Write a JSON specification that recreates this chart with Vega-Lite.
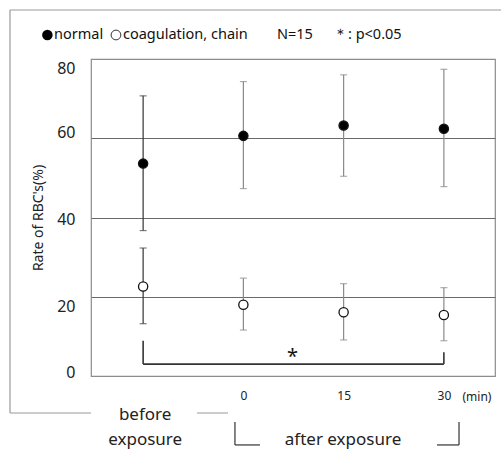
{
  "$schema": "https://vega.github.io/schema/vega-lite/v6.json",
  "autosize": {"type": "none"},
  "width": 404,
  "height": 317,
  "padding": {"left": 91, "top": 59, "right": 6, "bottom": 74},
  "background": "white",
  "config": {
    "view": {"stroke": "#8c8c8c", "strokeWidth": 1.2},
    "font": "Noto Sans",
    "text": {"font": "Noto Sans", "fontWeight": "normal"}
  },
  "datasets": {
    "one": [{"item": "annotation"}]
  },
  "data": {
    "values": [
      {"time": "before", "pos": 0, "group": "normal", "mean": 53.6, "lo": 36.7, "hi": 70.7},
      {"time": "0", "pos": 1, "group": "normal", "mean": 60.6, "lo": 47.3, "hi": 74.3},
      {"time": "15", "pos": 2, "group": "normal", "mean": 63.2, "lo": 50.4, "hi": 76.0},
      {"time": "30", "pos": 3, "group": "normal", "mean": 62.4, "lo": 47.8, "hi": 77.4},
      {"time": "before", "pos": 0, "group": "coagulation, chain", "mean": 22.6, "lo": 13.2, "hi": 32.3},
      {"time": "0", "pos": 1, "group": "coagulation, chain", "mean": 18.0, "lo": 11.6, "hi": 24.7},
      {"time": "15", "pos": 2, "group": "coagulation, chain", "mean": 16.1, "lo": 9.1, "hi": 23.3},
      {"time": "30", "pos": 3, "group": "coagulation, chain", "mean": 15.4, "lo": 8.9, "hi": 22.3}
    ]
  },
  "layer": [
    {
      "mark": {"type": "rule", "strokeWidth": 1.2},
      "encoding": {
        "x": {
          "field": "pos", "type": "quantitative",
          "scale": {"domain": [-0.52, 3.51], "nice": false, "zero": false},
          "axis": {
            "values": [1, 2, 3],
            "labelExpr": "datum.value == 1 ? '0' : datum.value == 2 ? '15' : '30'",
            "ticks": false, "domain": false, "grid": false,
            "labelPadding": 14, "labelFontSize": 12, "labelColor": "#222",
            "labelFont": "Noto Sans", "labelFontWeight": "normal", "title": null
          }
        },
        "y": {
          "field": "lo", "type": "quantitative",
          "scale": {"domain": [0, 80], "nice": false},
          "axis": {
            "values": [0, 20, 40, 60, 80],
            "ticks": false, "domain": false,
            "labelPadding": 16, "labelFontSize": 16, "labelColor": "#222", "labelFont": "Noto Sans", "labelFontWeight": "normal",
            "labelOffset": {
              "condition": [
                {"test": "datum.value == 80", "value": 9},
                {"test": "datum.value == 60", "value": -6},
                {"test": "datum.value == 40", "value": 2},
                {"test": "datum.value == 20", "value": 10}
              ],
              "value": -4
            },
            "grid": true, "gridColor": "#6a6a6a", "gridWidth": 1.2,
            "gridOpacity": {"condition": {"test": "datum.value == 0 || datum.value == 80", "value": 0}, "value": 1},
            "title": "Rate of RBC's(%)",
            "titleFont": "Noto Sans", "titleFontSize": 14, "titleFontWeight": "normal", "titleColor": "#222",
            "titleX": -53, "titleY": 158.5, "titleAngle": 270, "titleAlign": "center", "titleBaseline": "middle"
          }
        },
        "y2": {"field": "hi"},
        "color": {"condition": {"test": "datum.pos == 0", "value": "#333"}, "value": "#8a8a8a"}
      }
    },
    {
      "mark": {"type": "tick", "orient": "horizontal", "size": 7, "thickness": 1.2},
      "encoding": {
        "x": {"field": "pos", "type": "quantitative"},
        "y": {"field": "lo", "type": "quantitative"},
        "color": {"condition": {"test": "datum.pos == 0", "value": "#444"}, "value": "#8a8a8a"}
      }
    },
    {
      "mark": {"type": "tick", "orient": "horizontal", "size": 7, "thickness": 1.2},
      "encoding": {
        "x": {"field": "pos", "type": "quantitative"},
        "y": {"field": "hi", "type": "quantitative"},
        "color": {"condition": {"test": "datum.pos == 0", "value": "#444"}, "value": "#8a8a8a"}
      }
    },
    {
      "mark": {"type": "point", "filled": false, "opacity": 1, "size": 85, "strokeWidth": 1.3, "stroke": "#111"},
      "encoding": {
        "x": {"field": "pos", "type": "quantitative"},
        "y": {"field": "mean", "type": "quantitative"},
        "fill": {
          "field": "group", "type": "nominal",
          "scale": {"domain": ["normal", "coagulation, chain"], "range": ["#000000", "#ffffff"]},
          "legend": null
        }
      }
    },
    {
      "data": {"name": "one"},
      "layer": [
        {
          "mark": {"type": "rule", "color": "#333", "strokeWidth": 1.6, "clip": false},
          "encoding": {"x": {"datum": 0, "type": "quantitative"}, "y": {"datum": 8.9, "type": "quantitative"}, "y2": {"datum": 3.0}}
        },
        {
          "mark": {"type": "rule", "color": "#333", "strokeWidth": 1.6, "clip": false},
          "encoding": {"x": {"datum": 0, "type": "quantitative"}, "x2": {"datum": 3}, "y": {"datum": 3.0, "type": "quantitative"}}
        },
        {
          "mark": {"type": "rule", "color": "#333", "strokeWidth": 1.6, "clip": false},
          "encoding": {"x": {"datum": 3, "type": "quantitative"}, "y": {"datum": 6.0, "type": "quantitative"}, "y2": {"datum": 3.0}}
        },
        {
          "mark": {"type": "text", "text": "*", "fontSize": 20, "baseline": "middle", "align": "center", "dy": 4, "color": "#111"},
          "encoding": {"x": {"datum": 1.49, "type": "quantitative"}, "y": {"datum": 5.8, "type": "quantitative"}}
        },
        {
          "mark": {"type": "point", "shape": "circle", "filled": true, "opacity": 1, "size": 110, "color": "#000", "clip": false},
          "encoding": {"x": {"datum": -0.955, "type": "quantitative"}, "y": {"datum": 86.06, "type": "quantitative"}}
        },
        {
          "mark": {"type": "text", "text": "normal", "fontSize": 14.5, "baseline": "middle", "align": "left", "color": "#111", "clip": false},
          "encoding": {"x": {"datum": -0.889, "type": "quantitative"}, "y": {"datum": 86.06, "type": "quantitative"}}
        },
        {
          "mark": {"type": "point", "shape": "circle", "filled": false, "opacity": 1, "size": 95, "stroke": "#333", "strokeWidth": 1, "fill": "white", "clip": false},
          "encoding": {"x": {"datum": -0.271, "type": "quantitative"}, "y": {"datum": 86.06, "type": "quantitative"}}
        },
        {
          "mark": {"type": "text", "text": "coagulation, chain", "fontSize": 14.5, "baseline": "middle", "align": "left", "color": "#111", "clip": false},
          "encoding": {"x": {"datum": -0.201, "type": "quantitative"}, "y": {"datum": 86.06, "type": "quantitative"}}
        },
        {
          "mark": {"type": "text", "text": "N=15", "fontSize": 14.5, "baseline": "middle", "align": "left", "color": "#111", "clip": false},
          "encoding": {"x": {"datum": 1.335, "type": "quantitative"}, "y": {"datum": 86.06, "type": "quantitative"}}
        },
        {
          "mark": {"type": "text", "text": "＊: p<0.05", "fontSize": 14.5, "baseline": "middle", "align": "left", "color": "#111", "clip": false},
          "encoding": {"x": {"datum": 1.894, "type": "quantitative"}, "y": {"datum": 86.06, "type": "quantitative"}}
        },
        {
          "mark": {"type": "text", "text": "(min)", "fontSize": 12, "baseline": "middle", "align": "center", "color": "#222", "clip": false},
          "encoding": {"x": {"datum": 3.33, "type": "quantitative"}, "y": {"datum": -5.3, "type": "quantitative"}}
        },
        {
          "mark": {"type": "text", "text": "before\nexposure", "lineBreak": "\n", "lineHeight": 25, "fontSize": 17, "baseline": "middle", "align": "center", "color": "#222", "clip": false},
          "encoding": {"x": {"datum": 0.02, "type": "quantitative"}, "y": {"datum": -9.72, "type": "quantitative"}}
        },
        {
          "mark": {"type": "text", "text": "after exposure", "fontSize": 17, "baseline": "middle", "align": "center", "color": "#222", "clip": false},
          "encoding": {"x": {"datum": 1.994, "type": "quantitative"}, "y": {"datum": -16.2, "type": "quantitative"}}
        },
        {
          "mark": {"type": "rule", "color": "#333", "strokeWidth": 1.2, "clip": false},
          "encoding": {"x": {"datum": 0.916, "type": "quantitative"}, "y": {"datum": -11.6, "type": "quantitative"}, "y2": {"datum": -17.4}}
        },
        {
          "mark": {"type": "rule", "color": "#333", "strokeWidth": 1.2, "clip": false},
          "encoding": {"x": {"datum": 0.916, "type": "quantitative"}, "x2": {"datum": 1.166}, "y": {"datum": -17.4, "type": "quantitative"}}
        },
        {
          "mark": {"type": "rule", "color": "#333", "strokeWidth": 1.2, "clip": false},
          "encoding": {"x": {"datum": 3.151, "type": "quantitative"}, "y": {"datum": -11.6, "type": "quantitative"}, "y2": {"datum": -17.4}}
        },
        {
          "mark": {"type": "rule", "color": "#333", "strokeWidth": 1.2, "clip": false},
          "encoding": {"x": {"datum": 2.931, "type": "quantitative"}, "x2": {"datum": 3.151}, "y": {"datum": -17.4, "type": "quantitative"}}
        },
        {
          "mark": {"type": "rule", "color": "#999", "strokeWidth": 1.2, "clip": false},
          "encoding": {"x": {"datum": -1.328, "type": "quantitative"}, "x2": {"datum": 3.7}, "y": {"datum": 92.37, "type": "quantitative"}}
        },
        {
          "mark": {"type": "rule", "color": "#999", "strokeWidth": 1.2, "clip": false},
          "encoding": {"x": {"datum": -1.328, "type": "quantitative"}, "y": {"datum": 92.37, "type": "quantitative"}, "y2": {"datum": -9.34}}
        },
        {
          "mark": {"type": "rule", "color": "#999", "strokeWidth": 1.2, "clip": false},
          "encoding": {"x": {"datum": -1.328, "type": "quantitative"}, "x2": {"datum": -0.52}, "y": {"datum": -9.34, "type": "quantitative"}}
        },
        {
          "mark": {"type": "rule", "color": "#999", "strokeWidth": 1.2, "clip": false},
          "encoding": {"x": {"datum": 0.537, "type": "quantitative"}, "x2": {"datum": 0.847}, "y": {"datum": -9.34, "type": "quantitative"}}
        }
      ]
    }
  ]
}
